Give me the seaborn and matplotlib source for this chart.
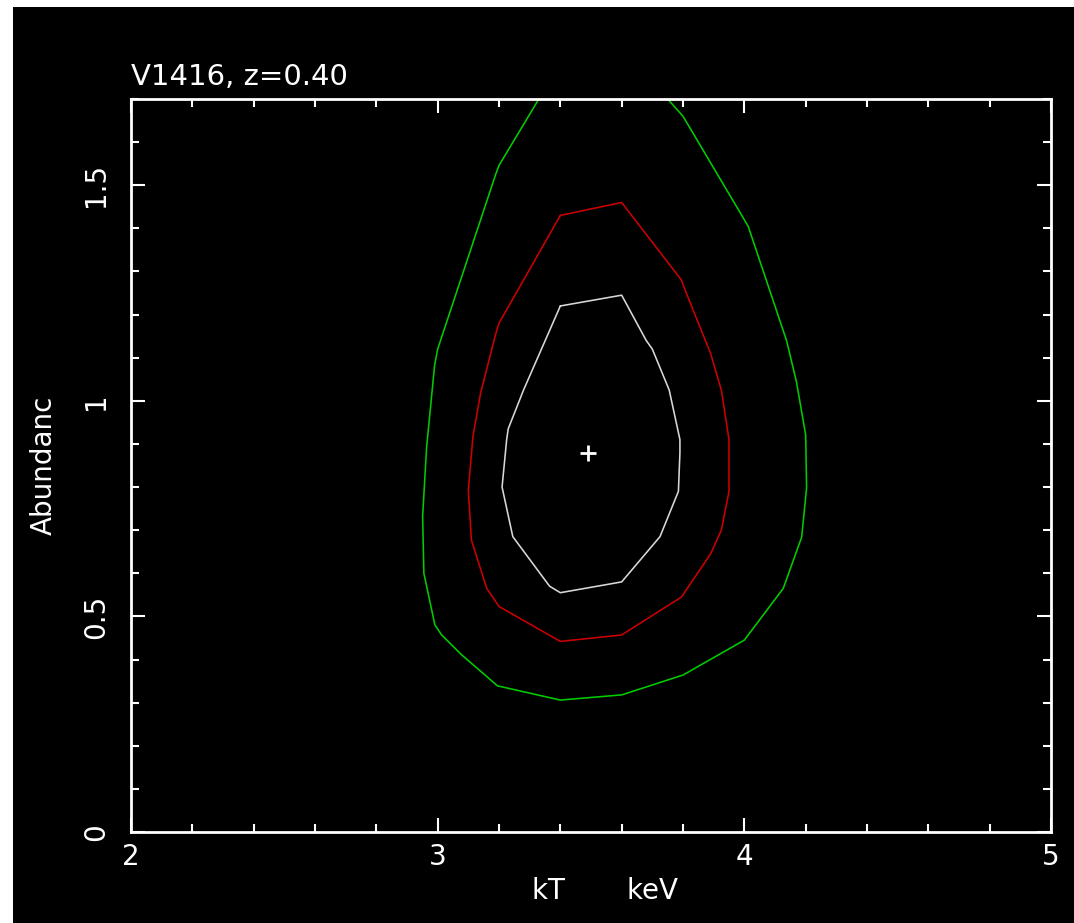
import matplotlib
matplotlib.use("Agg")
import matplotlib.pyplot as plt
from matplotlib.patches import Rectangle
from matplotlib.ticker import MultipleLocator
import seaborn as sns
import pandas as pd

# ---- data ----
title_text = "V1416, z=0.40"
x_label = "kT       keV"
y_label = "Abundanc"

best_kt = [3.49]
best_ab = [0.88]

# inner (white) contour
white_kt = [3.40, 3.60, 3.68, 3.70, 3.755, 3.79, 3.79, 3.785, 3.725, 3.60, 3.40, 3.365, 3.245, 3.21, 3.225, 3.23, 3.28, 3.40]
white_ab = [1.22, 1.245, 1.14, 1.12, 1.025, 0.91, 0.88, 0.79, 0.685, 0.58, 0.555, 0.57, 0.685, 0.80, 0.91, 0.935, 1.025, 1.22]

# middle (red) contour
red_kt = [3.40, 3.60, 3.795, 3.805, 3.89, 3.925, 3.95, 3.95, 3.925, 3.89, 3.795, 3.60, 3.40, 3.20, 3.16, 3.11, 3.10, 3.115, 3.14, 3.19, 3.20, 3.40]
red_ab = [1.43, 1.46, 1.28, 1.26, 1.11, 1.025, 0.91, 0.79, 0.70, 0.645, 0.545, 0.457, 0.442, 0.523, 0.565, 0.677, 0.793, 0.917, 1.018, 1.157, 1.18, 1.43]

# outer (green) contour, open at the top of the plot
green_kt = [3.33, 3.20, 3.19, 3.00, 2.99, 2.964, 2.951, 2.955, 2.991, 3.013, 3.078, 3.195, 3.40, 3.60, 3.80, 4.00, 4.127, 4.187, 4.203, 4.20, 4.17, 4.138, 4.013, 3.99, 3.80, 3.75]
green_ab = [1.70, 1.546, 1.527, 1.12, 1.082, 0.893, 0.732, 0.60, 0.48, 0.457, 0.411, 0.339, 0.306, 0.318, 0.364, 0.445, 0.565, 0.684, 0.798, 0.921, 1.044, 1.139, 1.404, 1.432, 1.66, 1.70]

x_ticks = [2, 3, 4, 5]
x_ticklabels = ["2", "3", "4", "5"]
y_ticks = [0, 0.5, 1, 1.5]
y_ticklabels = ["0", "0.5", "1", "1.5"]

# ---- style ----
sns.set_theme(style="dark")
plt.rcParams["font.family"] = ["DejaVu Sans"]
plt.rcParams["axes.grid"] = False

W, H = 1074, 923
fig = plt.figure(figsize=(W / 100, H / 100), dpi=100, facecolor="white")
fig.patches.append(Rectangle((13 / W, 0), 1 - 13 / W, 1 - 7 / H,
                             transform=fig.transFigure, facecolor="black",
                             edgecolor="none", zorder=-10))

left, right = 131 / W, 1051 / W
bottom, top = 1 - 832 / H, 1 - 99 / H
ax = fig.add_axes([left, bottom, right - left, top - bottom])
ax.set_facecolor("black")

lw = 1.15
sns.lineplot(x=green_kt, y=green_ab, sort=False, estimator=None, color="#00cc00", lw=lw, ax=ax)
sns.lineplot(x=red_kt, y=red_ab, sort=False, estimator=None, color="#cc0000", lw=lw, ax=ax)
sns.lineplot(x=white_kt, y=white_ab, sort=False, estimator=None, color="#d8d8d8", lw=lw, ax=ax)
ax.plot(best_kt, best_ab, marker="+", color="white", ms=11, mew=2, ls="none")

ax.set_xlim(2, 5)
ax.set_ylim(0, 1.70)

ax.set_xticks(x_ticks)
ax.set_xticklabels(x_ticklabels)
ax.set_yticks(y_ticks)
ax.set_yticklabels(y_ticklabels)
ax.xaxis.set_minor_locator(MultipleLocator(0.2))
ax.yaxis.set_minor_locator(MultipleLocator(0.1))

for s in ax.spines.values():
    s.set_visible(True)
    s.set_color("white")
    s.set_linewidth(2)

ax.tick_params(which="both", direction="in", colors="white", top=True, right=True,
               bottom=True, left=True, width=1.5)
ax.tick_params(which="major", length=10)
ax.tick_params(which="minor", length=6)
ax.tick_params(axis="x", which="major", labelsize=20, pad=8, labelcolor="white")
ax.tick_params(axis="y", which="major", labelsize=20, pad=15, labelcolor="white",
               labelrotation=90)
for lab in ax.get_yticklabels():
    lab.set_va("center")

ax.set_xlabel(x_label, color="white", fontsize=20)
ax.xaxis.set_label_coords(0.515, -0.062)
ax.set_ylabel(y_label, color="white", fontsize=20)
ax.yaxis.set_label_coords(-0.08, 0.5)
ax.set_title(title_text, loc="left", color="white", fontsize=21, pad=10)

fig.savefig("out.png", dpi=100, facecolor=fig.get_facecolor())
